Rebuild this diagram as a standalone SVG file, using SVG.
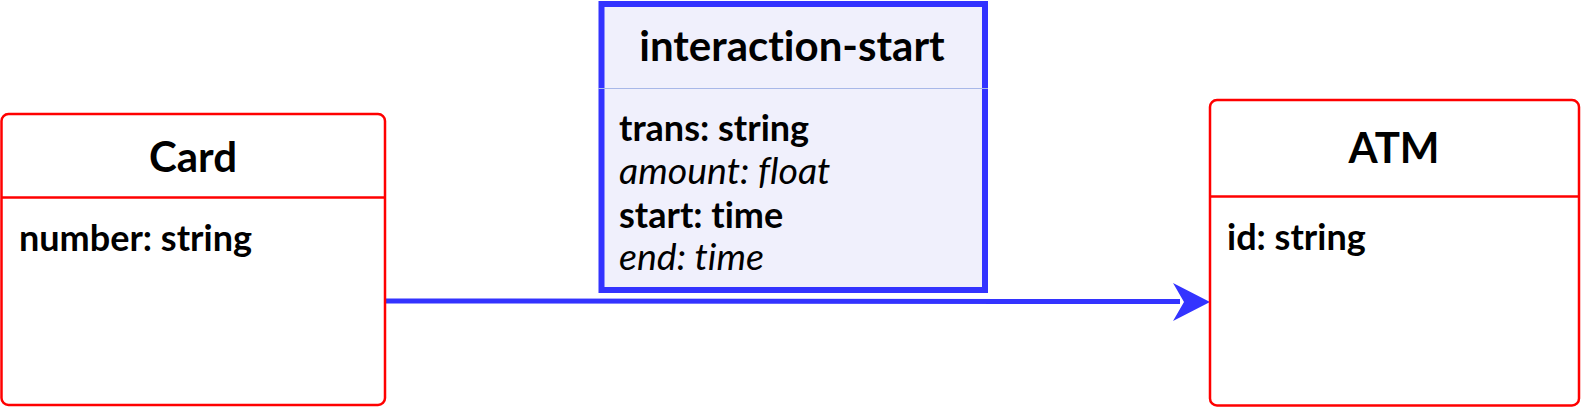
<svg xmlns="http://www.w3.org/2000/svg" width="1581" height="408" viewBox="0 0 1581 408">
<defs>
<style>
text{font-variant-ligatures:none}
.box{fill:#ffffff;stroke:#ff0000;stroke-width:2.5}
.div{stroke:#ff0000;stroke-width:2.5}
.title{font-family:Lato,"Noto Sans",sans-serif;font-weight:bold;font-size:42px;fill:#000;text-anchor:middle}
.attr{font-family:Lato,"Noto Sans",sans-serif;font-weight:bold;font-size:36px;fill:#000}
.it{font-family:Lato,"Noto Sans",sans-serif;font-style:italic;font-weight:normal;font-size:37.5px;fill:#000}
.edge{fill:none;stroke:#3333ff;stroke-width:5}
</style>
</defs>
<rect width="1581" height="408" fill="#ffffff"/>
<g id="connectors">
<line class="edge" x1="385" y1="301" x2="1180" y2="301.5"/>
<path d="M1210,302 L1173,283 L1184,302 L1173,321 Z" fill="#3333ff"/>
</g>
<g id="node-card">
<rect class="box" x="1.5" y="114" width="383.5" height="291" rx="7"/>
<line class="div" x1="1.5" y1="197.5" x2="385" y2="197.5"/>
<text class="title" x="193" y="171.5">Card</text>
<text class="attr" x="19" y="250.5">number: string</text>
</g>
<g id="node-atm">
<rect class="box" x="1210" y="100" width="369" height="305.5" rx="7"/>
<line class="div" x1="1210" y1="196.5" x2="1579" y2="196.5"/>
<text class="title" x="1394" y="162.5">ATM</text>
<text class="attr" x="1227" y="249.5">id: string</text>
</g>
<g id="node-interaction-start">
<rect x="601.5" y="4" width="383.5" height="286" fill="#f0f0fc" stroke="#3333ff" stroke-width="6"/>
<line x1="598" y1="88.5" x2="988" y2="88.5" stroke="#a8b8e8" stroke-width="1"/>
<text class="title" x="792" y="60.5">interaction-start</text>
<text class="attr" x="619" y="141">trans: string</text>
<text class="it" x="619" y="183.5">amount: float</text>
<text class="attr" x="619" y="228">start: time</text>
<text class="it" x="619" y="270">end: time</text>
</g>
</svg>
